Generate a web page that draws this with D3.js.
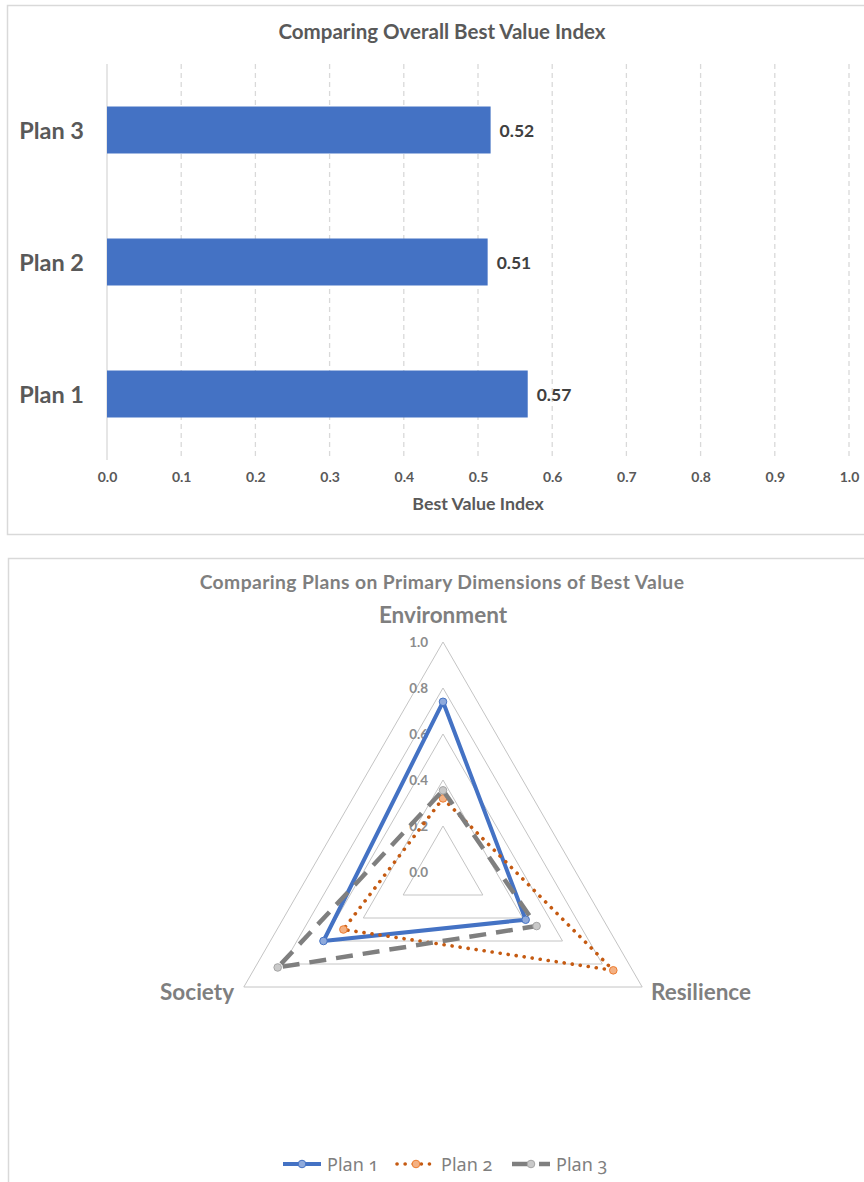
<!DOCTYPE html>
<html>
<head>
<meta charset="utf-8">
<script src="https://cdn.jsdelivr.net/npm/d3@7"></script>
<style>
  html, body { margin: 0; padding: 0; background: #fff; }
  svg { display: block; }
</style>
</head>
<body>
<svg id="chart" width="864" height="1182"></svg>
<script>
// ---- Overall index (bar chart) ----
const plans = ["Plan 1", "Plan 2", "Plan 3"];
const bestValueIndex = [0.567, 0.513, 0.517];
const indexTicks = [0, 0.1, 0.2, 0.3, 0.4, 0.5, 0.6, 0.7, 0.8, 0.9, 1.0];

// ---- Primary dimensions (radar chart) ----
const dimensions = ["Environment", "Resilience", "Society"];
const plan1Scores = [0.74, 0.415, 0.60];
const plan2Scores = [0.32, 0.855, 0.50];
const plan3Scores = [0.355, 0.47, 0.83];
const radarTicks = [0, 0.2, 0.4, 0.6, 0.8, 1.0];

const svg = d3.select("#chart");
const font = "Lato, 'Open Sans', sans-serif";

// Chart frames
svg.append("rect").attr("x", 7.5).attr("y", 5.5).attr("width", 880).attr("height", 529)
  .attr("fill", "none").attr("stroke", "#d9d9d9").attr("stroke-width", 1.5);
svg.append("rect").attr("x", 8.5).attr("y", 558.5).attr("width", 880).attr("height", 640)
  .attr("fill", "none").attr("stroke", "#d9d9d9").attr("stroke-width", 1.5);

// ================= Bar chart =================
const bar = svg.append("g");
const x = d3.scaleLinear().domain([0, 1]).range([107, 849]);
const y = d3.scaleBand().domain(["Plan 3", "Plan 2", "Plan 1"]).range([64, 460])
  .paddingInner(0.644).paddingOuter(0.322);

bar.append("text").attr("x", 442).attr("y", 38.5).attr("text-anchor", "middle")
  .attr("font-family", font).attr("font-weight", 700).attr("font-size", 20.5)
  .attr("fill", "#595959").text("Comparing Overall Best Value Index");

// vertical gridlines
bar.append("g").selectAll("line").data(indexTicks).join("line")
  .attr("x1", d => x(d)).attr("x2", d => x(d))
  .attr("y1", 64).attr("y2", 460)
  .attr("stroke", "#d9d9d9").attr("stroke-width", 1.3)
  .attr("stroke-dasharray", d => d === 0 ? null : "5,4");

// bars
const barData = plans.map((p, i) => ({ plan: p, value: bestValueIndex[i] }));
bar.append("g").selectAll("rect").data(barData).join("rect")
  .attr("x", x(0)).attr("y", d => y(d.plan))
  .attr("width", d => x(d.value) - x(0)).attr("height", y.bandwidth())
  .attr("fill", "#4472c4");

// value labels
bar.append("g").selectAll("text").data(barData).join("text")
  .attr("x", d => x(d.value) + 9).attr("y", d => y(d.plan) + y.bandwidth() / 2 + 6.5)
  .attr("font-family", font).attr("font-weight", 700).attr("font-size", 17.5)
  .attr("fill", "#404040").text(d => d3.format(".2f")(d.value));

// category labels
bar.append("g").selectAll("text").data(plans).join("text")
  .attr("x", 84).attr("y", d => y(d) + y.bandwidth() / 2 + 8.5)
  .attr("text-anchor", "end")
  .attr("font-family", font).attr("font-weight", 700).attr("font-size", 23.5)
  .attr("fill", "#595959").text(d => d);

// x axis
const xAxis = bar.append("g").attr("transform", "translate(0,460)")
  .call(d3.axisBottom(x).tickValues(indexTicks).tickFormat(d3.format(".1f")).tickSize(0).tickPadding(12));
xAxis.select(".domain").remove();
xAxis.selectAll("text").attr("font-family", font).attr("font-weight", 700)
  .attr("font-size", 14).attr("fill", "#595959");

bar.append("text").attr("x", (x(0) + x(1)) / 2).attr("y", 510).attr("text-anchor", "middle")
  .attr("font-family", font).attr("font-weight", 700).attr("font-size", 17.8)
  .attr("fill", "#595959").text("Best Value Index");

// ================= Radar chart =================
const radar = svg.append("g");
const cx = 443, cy = 872, R = 230;
const r = d3.scaleLinear().domain([0, 1]).range([0, R]);
const angle = i => (i * 2 * Math.PI) / dimensions.length;
const pt = (i, v) => [cx + r(v) * Math.sin(angle(i)), cy - r(v) * Math.cos(angle(i))];

radar.append("text").attr("x", 442).attr("y", 589).attr("text-anchor", "middle")
  .attr("font-family", font).attr("font-weight", 700).attr("font-size", 19.3)
  .attr("letter-spacing", 0.4)
  .attr("fill", "#7f7f7f").text("Comparing Plans on Primary Dimensions of Best Value");

// grid triangles
radar.append("g").selectAll("path").data(radarTicks.filter(t => t > 0)).join("path")
  .attr("d", t => d3.line()(dimensions.map((_, i) => pt(i, t))) + "Z")
  .attr("fill", "none").attr("stroke", "#c4c4c4").attr("stroke-width", 1);

// radial tick labels
radar.append("g").selectAll("text").data(radarTicks).join("text")
  .attr("x", cx - 15).attr("y", t => cy - r(t) + 5)
  .attr("text-anchor", "end")
  .attr("font-family", font).attr("font-weight", 700).attr("font-size", 13.5)
  .attr("fill", "#8c8c8c").text(d3.format(".1f"));

// dimension labels
const dimLabel = [
  { x: cx, y: 623, anchor: "middle" },
  { x: 651, y: 1000, anchor: "start" },
  { x: 234, y: 1000, anchor: "end" }
];
radar.append("g").selectAll("text").data(dimensions).join("text")
  .attr("x", (d, i) => dimLabel[i].x).attr("y", (d, i) => dimLabel[i].y)
  .attr("text-anchor", (d, i) => dimLabel[i].anchor)
  .attr("font-family", font).attr("font-weight", 700).attr("font-size", 22.5)
  .attr("fill", "#7f7f7f").text(d => d);

// series
const series = [
  { name: "Plan 1", values: plan1Scores, stroke: "#4472c4", width: 4, dash: null, cap: "butt",
    mFill: "#8faadc", mStroke: "#4472c4" },
  { name: "Plan 2", values: plan2Scores, stroke: "#c55a11", width: 3.6, dash: "0.1,8", cap: "round",
    mFill: "#f4b183", mStroke: "#ed7d31" },
  { name: "Plan 3", values: plan3Scores, stroke: "#7f7f7f", width: 4.5, dash: "17,10", cap: "butt",
    mFill: "#c9c9c9", mStroke: "#a5a5a5" }
];

series.forEach(s => {
  const g = radar.append("g");
  const pts = s.values.map((v, i) => pt(i, v));
  g.append("path").attr("d", d3.line()(pts) + "Z")
    .attr("fill", "none").attr("stroke", s.stroke).attr("stroke-width", s.width)
    .attr("stroke-dasharray", s.dash).attr("stroke-linecap", s.cap)
    .attr("stroke-linejoin", "round");
  g.selectAll("circle").data(pts).join("circle")
    .attr("cx", d => d[0]).attr("cy", d => d[1]).attr("r", 3.8)
    .attr("fill", s.mFill).attr("stroke", s.mStroke).attr("stroke-width", 1);
});

// legend
const legendX = [283, 397, 512];
const legend = radar.append("g");
series.forEach((s, i) => {
  const g = legend.append("g").attr("transform", `translate(${legendX[i]},1164)`);
  g.append("line").attr("x1", 0).attr("x2", 38).attr("y1", 0).attr("y2", 0)
    .attr("stroke", s.stroke).attr("stroke-width", s.width)
    .attr("stroke-dasharray", s.dash).attr("stroke-linecap", s.cap);
  g.append("circle").attr("cx", 19).attr("cy", 0).attr("r", 3.8)
    .attr("fill", s.mFill).attr("stroke", s.mStroke).attr("stroke-width", 1);
  g.append("text").attr("x", 44).attr("y", 6.5)
    .attr("font-family", "'Noto Sans', sans-serif").attr("font-size", 18)
    .style("font-feature-settings", "'onum' 1")
    .attr("fill", "#7f7f7f").text(s.name);
});
</script>
</body>
</html>
